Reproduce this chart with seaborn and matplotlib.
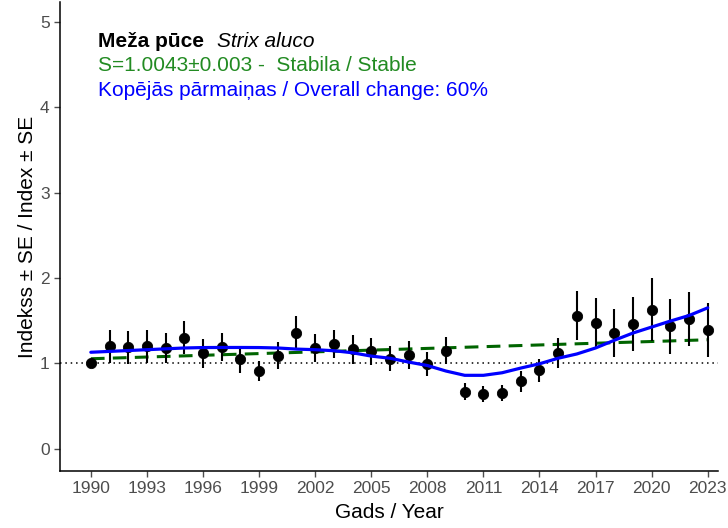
import numpy as np
import pandas as pd
import matplotlib
matplotlib.use("Agg")
import matplotlib.pyplot as plt
import seaborn as sns

years = list(range(1990, 2024))
index_vals = [1.007, 1.20, 1.186, 1.20, 1.18, 1.30, 1.116, 1.194, 1.046, 0.913,
              1.09, 1.36, 1.18, 1.226, 1.163, 1.14, 1.054, 1.10, 0.995, 1.15,
              0.67, 0.64, 0.656, 0.79, 0.917, 1.12, 1.56, 1.475, 1.355, 1.46,
              1.63, 1.437, 1.52, 1.385]
se_vals = [0.03, 0.19, 0.19, 0.19, 0.18, 0.195, 0.166, 0.166, 0.156, 0.117,
           0.16, 0.20, 0.166, 0.166, 0.17, 0.156, 0.146, 0.162, 0.14, 0.156,
           0.10, 0.094, 0.092, 0.12, 0.133, 0.18, 0.287, 0.289, 0.283, 0.312,
           0.365, 0.322, 0.32, 0.316]
smooth_vals = [1.13, 1.14, 1.15, 1.16, 1.17, 1.18, 1.185, 1.186, 1.186, 1.185,
               1.18, 1.167, 1.16, 1.148, 1.124, 1.085, 1.06, 1.015, 0.975, 0.91,
               0.86, 0.86, 0.89, 0.945, 0.995, 1.06, 1.11, 1.18, 1.27, 1.355,
               1.425, 1.495, 1.56, 1.65]
trend_years = [1990, 2023]
trend_vals = [1.054, 1.276]
xtick_years = list(range(1990, 2024, 3))
ytick_vals = [0, 1, 2, 3, 4, 5]

title_lv = "Meža pūce"
title_lat = "Strix aluco"
line2 = "S=1.0043±0.003 -  Stabila / Stable"
line3 = "Kopējās pārmaiņas / Overall change: 60%"

df = pd.DataFrame({"year": years, "index": index_vals, "se": se_vals, "smooth": smooth_vals})
tdf = pd.DataFrame({"year": trend_years, "trend": trend_vals})

sns.set_theme(style="ticks")
plt.rcParams["font.family"] = ["Liberation Sans", "DejaVu Sans"]

fig = plt.figure(figsize=(7.28, 5.28), dpi=100)
ax = fig.add_axes([60 / 728, 1 - 471 / 528, (718 - 60) / 728, (471 - 2) / 528])

ax.axhline(1, color="black", linestyle=(0, (1, 2.5)), linewidth=1.1, zorder=1)
sns.lineplot(data=tdf, x="year", y="trend", ax=ax, color="#006400", linewidth=2.2,
             linestyle=(0, (4.5, 2.7)), zorder=2)
ax.vlines(df["year"], df["index"] - df["se"], df["index"] + df["se"], color="black",
          linewidth=1.5, zorder=3)
sns.scatterplot(data=df, x="year", y="index", ax=ax, color="black", s=55,
                edgecolor="black", zorder=4)
sns.lineplot(data=df, x="year", y="smooth", ax=ax, color="blue", linewidth=2.3, zorder=5)

ax.set_xlim(1988.35, 2023.55)
ax.set_ylim(-0.26, 5.23)
ax.set_xticks(xtick_years)
ax.set_yticks(ytick_vals)
ax.tick_params(axis="both", colors="#4D4D4D", labelsize=12.5, length=4, width=1.0, pad=3.5)
for lab in ax.get_xticklabels() + ax.get_yticklabels():
    lab.set_color("#4D4D4D")
for s in ["left", "bottom"]:
    ax.spines[s].set_color("black")
    ax.spines[s].set_linewidth(1.1)
sns.despine(ax=ax)
ax.set_xlabel("Gads / Year", fontsize=15, color="black", labelpad=5)
ax.set_ylabel("Indekss ± SE / Index ± SE", fontsize=15, color="black", labelpad=2)

t1 = ax.text(0.058, 0.915, title_lv, transform=ax.transAxes, fontsize=15,
             fontweight="bold", va="center", ha="left", color="black")
ax.annotate(title_lat, xy=(1, 0.5), xycoords=t1, xytext=(9, 0), textcoords="offset points",
            fontsize=15, fontstyle="italic", va="center", ha="left", color="black")
ax.text(0.058, 0.864, line2, transform=ax.transAxes, fontsize=15, va="center",
        ha="left", color="#228B22")
ax.text(0.058, 0.811, line3, transform=ax.transAxes, fontsize=15, va="center",
        ha="left", color="blue")

fig.savefig("out.png", dpi=100)
